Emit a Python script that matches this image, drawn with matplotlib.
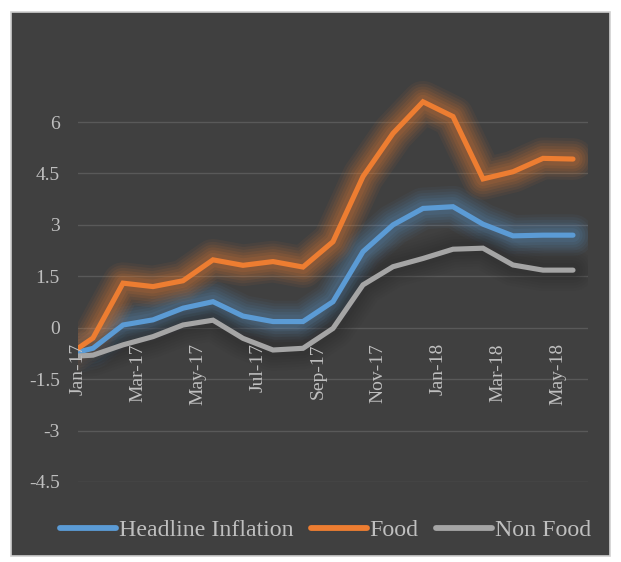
import matplotlib
matplotlib.use("Agg")
import matplotlib.pyplot as plt
from matplotlib.patches import Rectangle

# Monthly inflation rates (%), Jan-17 .. Jun-18
months = ["Jan-17", "Feb-17", "Mar-17", "Apr-17", "May-17", "Jun-17",
          "Jul-17", "Aug-17", "Sep-17", "Oct-17", "Nov-17", "Dec-17",
          "Jan-18", "Feb-18", "Mar-18", "Apr-18", "May-18", "Jun-18"]
headline = [-0.82, -0.60, 0.08, 0.23, 0.57, 0.76, 0.34, 0.18, 0.18, 0.76,
            2.22, 3.00, 3.48, 3.53, 3.02, 2.68, 2.70, 2.70]
food = [-0.90, -0.30, 1.30, 1.20, 1.37, 1.98, 1.82, 1.93, 1.77, 2.51,
        4.41, 5.67, 6.59, 6.16, 4.34, 4.55, 4.94, 4.92]
non_food = [-0.85, -0.80, -0.50, -0.26, 0.08, 0.22, -0.31, -0.65, -0.60, -0.02,
            1.25, 1.78, 2.02, 2.29, 2.32, 1.83, 1.68, 1.68]

y_ticks = [-4.5, -3, -1.5, 0, 1.5, 3, 4.5, 6]
y_tick_labels = ["-4.5", "-3", "-1.5", "0", "1.5", "3", "4.5", "6"]

series = [
    ("Headline Inflation", headline, "#5B9BD5", "#5B9BD5", 1.0),
    ("Food", food, "#ED7D31", "#ED7D31", 1.2),
    ("Non Food", non_food, "#A5A5A5", "#262626", 1.2),
]

BG = "#404040"
TEXT = "#BFBFBF"
FONT = ["Liberation Serif", "DejaVu Serif"]

fig = plt.figure(figsize=(6.21, 5.62), dpi=100)
fig.patch.set_facecolor("white")
fig.patches.append(Rectangle((11 / 621, 1 - 556 / 562), 599 / 621, 544 / 562,
                             transform=fig.transFigure, facecolor=BG,
                             edgecolor="#D0D0D0", linewidth=1.2, zorder=-5))

ax = fig.add_axes([78 / 621, 1 - 482 / 562, 510 / 621, (482 - 70.6) / 562])
ax.set_zorder(2)
ax.set_facecolor("none")
ax.set_xlim(0.5, 17.5)
ax.set_ylim(-4.5, 7.5)

x = list(range(len(months)))
handles = []
for name, vals, color, glow, k in series:
    # soft glow built from stacked wide translucent strokes
    for lw, a in [(30, 0.05), (26, 0.06), (22, 0.07), (18, 0.08), (14, 0.09), (10, 0.10)]:
        ax.plot(x, vals, color=glow, linewidth=lw, alpha=a * k,
                solid_capstyle="round", solid_joinstyle="round", zorder=2)
    (h,) = ax.plot(x, vals, color=color, linewidth=3.7,
                   solid_capstyle="round", solid_joinstyle="miter", zorder=3,
                   label=name)
    handles.append(h)

ax.set_yticks(y_ticks)
ax.set_yticklabels(y_tick_labels, fontsize=14, color=TEXT, family=FONT)
ax.tick_params(axis="y", length=0, pad=13)
ax.set_xticks([])
ax.grid(axis="y", color="#595959", linewidth=1.0, zorder=1)
ax.set_axisbelow(True)
for s in ax.spines.values():
    s.set_visible(False)

# category labels sit just under the zero line
for i in range(0, len(months), 2):
    ax.annotate(months[i], xy=(i + 0.5, 0), xytext=(0, -11),
                textcoords="offset points", rotation=90, ha="center", va="top",
                fontsize=14, color=TEXT, family=FONT, annotation_clip=False)

leg = fig.legend(handles=handles, loc="center", bbox_to_anchor=(0.524, 1 - 530 / 562),
                 ncol=3, frameon=False, handlelength=2.35, handletextpad=0.12,
                 columnspacing=0.72, prop={"family": FONT, "size": 17.2})
for t in leg.get_texts():
    t.set_color(TEXT)
for lh in leg.get_lines():
    lh.set_linewidth(4.2)
    lh.set_solid_capstyle("round")

fig.savefig("out.png", dpi=100, facecolor=fig.get_facecolor())
